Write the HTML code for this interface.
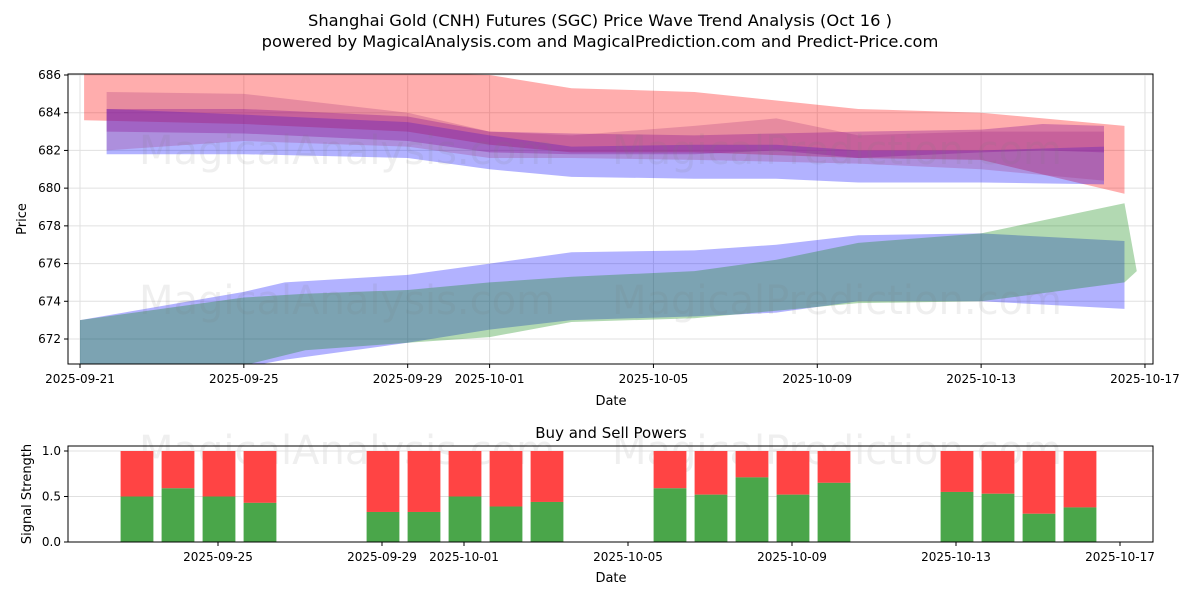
<!DOCTYPE html>
<html><head><meta charset="utf-8"><style>
body{margin:0;background:#fff;width:1200px;height:600px;overflow:hidden;font-family:"Liberation Sans","DejaVu Sans",sans-serif}
</style></head><body>
<svg id="svg" width="1200" height="600" xmlns="http://www.w3.org/2000/svg" font-family="DejaVu Sans, Liberation Sans, sans-serif">
<text x="600" y="26" text-anchor="middle" font-size="16.3">Shanghai Gold (CNH) Futures (SGC) Price Wave Trend Analysis (Oct 16 )</text>
<text x="600" y="47" text-anchor="middle" font-size="16.3">powered by MagicalAnalysis.com and MagicalPrediction.com and Predict-Price.com</text>
<defs><clipPath id="mclip"><rect x="68" y="74" width="1085" height="290"/></clipPath></defs>
<g id="main"></g>
<g id="sub"></g>
</svg>
<script>
const NS="http://www.w3.org/2000/svg";
// Main chart data (days since 2025-09-21)
const bandRedDays=[0.1,4,8,10,12,15,19,22,25.5];
const bandRedUpper=[686.2,686.2,686.1,686.0,685.3,685.1,684.2,684.0,683.3];
const bandRedLower=[683.6,683.4,683.0,682.3,681.9,681.9,681.6,681.5,679.7];
const bandBlueTopDays=[0.65,4,8,10,12,15,17,19,22,25];
const bandBlueTopUpper=[684.2,683.9,683.5,682.8,682.2,682.3,682.3,682.0,682.0,682.2];
const bandBlueTopLower=[681.8,681.8,681.6,681.0,680.6,680.5,680.5,680.3,680.3,680.2];
const bandPurpleDays=[0.65,4,8,10,12,15,17,19,22,25];
const bandPurpleUpper=[685.1,685.0,684.0,683.0,682.8,683.3,683.7,682.8,683.0,683.0];
const bandPurpleLower=[682.0,682.5,682.2,681.6,681.6,681.5,681.4,681.3,681.0,680.4];
const bandMagentaDays=[0.65,4,8,10,12,15,17,19,22,23.5,25];
const bandMagentaUpper=[684.2,684.2,683.8,683.0,682.9,682.8,682.9,683.0,683.1,683.4,683.3];
const bandMagentaLower=[683.0,682.9,682.5,681.9,681.8,681.8,682.0,681.6,681.9,682.0,681.9];
const bandGreenDays=[0,4,5.5,8,10,12,15,17,19,22,25.5,25.8];
const bandGreenUpper=[673.0,674.2,674.4,674.6,675.0,675.3,675.6,676.2,677.1,677.6,679.2,675.6];
const bandGreenLower=[669.0,670.6,671.4,671.8,672.1,672.9,673.1,673.5,673.9,674.0,675.0,675.6];
const bandBlueLowDays=[0,4,5,8,10,12,15,17,19,22,25.5];
const bandBlueLowUpper=[673.0,674.5,675.0,675.4,676.0,676.6,676.7,677.0,677.5,677.6,677.2];
const bandBlueLowLower=[669.0,670.5,670.9,671.8,672.5,673.0,673.2,673.4,674.0,674.0,673.6];
const yTicks=[672,674,676,678,680,682,684,686];
const xTickDays=[0,4,8,10,14,18,22,26];
const xTickLabels=["2025-09-21","2025-09-25","2025-09-29","2025-10-01","2025-10-05","2025-10-09","2025-10-13","2025-10-17"];
// Signal data
const barDays=[2,3,4,5,8,9,10,11,12,15,16,17,18,19,22,23,24,25];
const buyPower=[0.5,0.59,0.5,0.43,0.33,0.33,0.5,0.39,0.44,0.59,0.52,0.71,0.52,0.65,0.55,0.53,0.31,0.38];
const sigTicks=[0,0.5,1.0];

const X=d=>80+40.96*d, Y=v=>75+(686-v)*18.857;
const X2=d=>54+41*d, Y2=v=>542-v*91;
function el(tag,attrs,parent,txt){const e=document.createElementNS(NS,tag);for(const k in attrs)e.setAttribute(k,attrs[k]);if(txt!=null)e.textContent=txt;parent.appendChild(e);return e;}
const main=document.getElementById('main'), sub=document.getElementById('sub');
yTicks.forEach(v=>{const l=el('line',{x1:68,x2:1153,y1:Y(v),y2:Y(v),stroke:'#e0e0e0','stroke-width':1},main);
});
xTickDays.forEach(d=>{const l=el('line',{x1:X(d),x2:X(d),y1:74,y2:364,stroke:'#e0e0e0','stroke-width':1},main);
});
const bands=[
 [bandRedDays,bandRedUpper,bandRedLower,'rgba(255,0,0,0.32)','band-red'],
 [bandBlueTopDays,bandBlueTopUpper,bandBlueTopLower,'rgba(0,0,255,0.3)','band-blue-upper'],
 [bandPurpleDays,bandPurpleUpper,bandPurpleLower,'rgba(160,40,120,0.25)','band-purple'],
 [bandMagentaDays,bandMagentaUpper,bandMagentaLower,'rgba(140,20,150,0.35)','band-magenta'],
 [bandBlueLowDays,bandBlueLowUpper,bandBlueLowLower,'rgba(0,0,255,0.3)','band-blue-lower'],
 [bandGreenDays,bandGreenUpper,bandGreenLower,'rgba(0,128,0,0.3)','band-green'],
];
const g=el('g',{'clip-path':'url(#mclip)'},main);
bands.forEach(b=>{const [ds,up,lo,c,n]=b;let pts=ds.map((d,i)=>X(d)+','+Y(up[i]));
 for(let i=ds.length-1;i>=0;i--)pts.push(X(ds[i])+','+Y(lo[i]));
 const p=el('polygon',{points:pts.join(' '),fill:c},g);
 });
[[347,150,'MagicalAnalysis.com'],[837,150,'MagicalPrediction.com'],[347,300,'MagicalAnalysis.com'],[837,300,'MagicalPrediction.com'],[347,450,'MagicalAnalysis.com'],[837,450,'MagicalPrediction.com']].forEach(w=>{
 const t=el('text',{x:w[0],y:w[1]+14,'text-anchor':'middle','font-size':40,fill:'rgba(120,120,120,0.12)'},main,w[2]);
 });
el('rect',{x:68,y:74,width:1085,height:290,fill:'none',stroke:'#000','stroke-width':1},main);
yTicks.forEach(v=>{el('line',{x1:64,x2:68,y1:Y(v),y2:Y(v),stroke:'#000'},main);
 const t=el('text',{x:61,y:Y(v)+4,'text-anchor':'end','font-size':12},main,String(v));
 });
xTickDays.forEach((d,i)=>{el('line',{x1:X(d),x2:X(d),y1:364,y2:368,stroke:'#000'},main);
 const t=el('text',{x:X(d),y:383,'text-anchor':'middle','font-size':12},main,xTickLabels[i]);
 });
let t=el('text',{x:611,y:405,'text-anchor':'middle','font-size':13},main,'Date');

t=el('text',{x:26,y:219,'text-anchor':'middle','font-size':13,transform:'rotate(-90 26 219)'},main,'Price');

t=el('text',{x:611,y:438,'text-anchor':'middle','font-size':15},sub,'Buy and Sell Powers');

sigTicks.forEach(v=>{el('line',{x1:68,x2:1153,y1:Y2(v),y2:Y2(v),stroke:'#e0e0e0'},sub);});
barDays.forEach((d,i)=>{const x=X2(d)-15.4,w=32.8;
 const r=el('rect',{x:x,y:Y2(1),width:w,height:Y2(buyPower[i])-Y2(1),fill:'#ff4444'},sub);
 
 const gr=el('rect',{x:x,y:Y2(buyPower[i]),width:w,height:Y2(0)-Y2(buyPower[i]),fill:'#4aa64a'},sub);
 });
el('rect',{x:68,y:446,width:1085,height:96,fill:'none',stroke:'#000'},sub);
sigTicks.forEach(v=>{el('line',{x1:64,x2:68,y1:Y2(v),y2:Y2(v),stroke:'#000'},sub);
 const tt=el('text',{x:61,y:Y2(v)+4,'text-anchor':'end','font-size':12},sub,v.toFixed(1));
 });
xTickDays.slice(1).forEach((d,i)=>{el('line',{x1:X2(d),x2:X2(d),y1:542,y2:546,stroke:'#000'},sub);
 const tt=el('text',{x:X2(d),y:561,'text-anchor':'middle','font-size':12},sub,xTickLabels[i+1]);
 });
t=el('text',{x:611,y:582,'text-anchor':'middle','font-size':13},sub,'Date');

t=el('text',{x:31,y:494,'text-anchor':'middle','font-size':13,transform:'rotate(-90 31 494)'},sub,'Signal Strength');

</script>
</body></html>
